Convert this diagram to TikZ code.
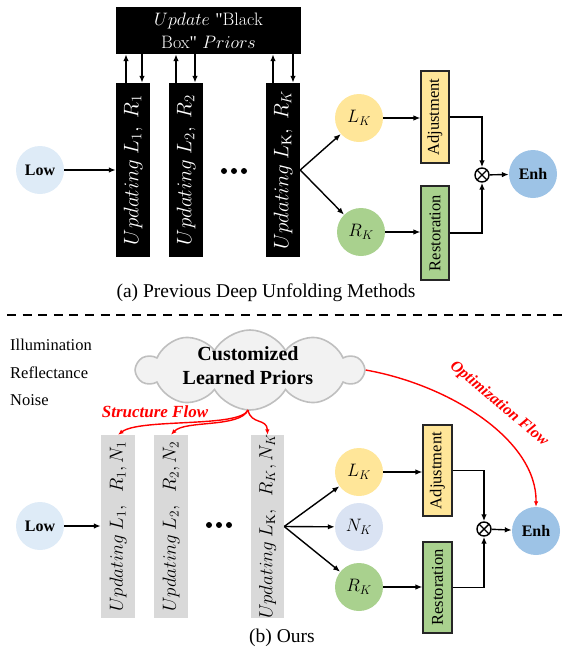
\RequirePackage{fix-cm}
\documentclass[tikz,border=0pt]{standalone}
\usepackage{fontspec}
\setmainfont{Liberation Serif}
\newcommand\lmrfont{\fontfamily{lmr}\selectfont}
\newcommand\sq{{\fontspec{Liberation Serif}[Ligatures=TeXOff]\char"22}}
\usetikzlibrary{shapes.symbols,arrows.meta,calc}
\definecolor{lowblue}{HTML}{DEEBF7}
\definecolor{enhblue}{HTML}{9DC3E6}
\definecolor{lyellow}{HTML}{FFE699}
\definecolor{rgreen}{HTML}{A9D18E}
\definecolor{nblue}{HTML}{DAE3F3}
\definecolor{colgray}{HTML}{D9D9D9}
\definecolor{cloudfill}{HTML}{F2F2F2}
\definecolor{cloudline}{HTML}{BFBFBF}
\definecolor{flowred}{HTML}{FF0000}
\begin{document}
\begin{tikzpicture}[x=1pt,y=-1pt,
  arr/.style={-{Latex[length=7pt,width=5.5pt]}, line width=1.4pt},
  redarr/.style={-{Latex[length=5.5pt,width=4.5pt]}, line width=1.4pt, draw=flowred},
  bcol/.style={fill=black, minimum width=34pt, minimum height=174pt, inner sep=0pt},
  gcol/.style={fill=colgray, minimum width=34pt, minimum height=183pt, inner sep=0pt},
  tcoltext/.style={rotate=90, text=white, inner sep=0pt, font=\fontsize{21}{21}\selectfont},
  gcoltext/.style={rotate=90, inner sep=0pt, font=\fontsize{19}{19}\selectfont},
  circ/.style={circle, minimum size=48pt, inner sep=0pt},
  boldlbl/.style={font=\bfseries\fontsize{16}{16}\selectfont},
  mathlbl/.style={font=\fontsize{18}{18}\selectfont},
  vbox/.style={draw=black!85, line width=1.1pt, minimum width=29pt, minimum height=92pt, inner sep=0pt},
  vtext/.style={rotate=90, inner sep=0pt, font=\fontsize{16.5}{16.5}\selectfont},
  otimesnode/.style={circle, draw, line width=1.4pt, minimum size=14pt, inner sep=0pt,
    path picture={\draw[line width=1.4pt] (path picture bounding box.north west) -- (path picture bounding box.south east)
      (path picture bounding box.north east) -- (path picture bounding box.south west);}},
  capfont/.style={font=\fontsize{19.5}{19.5}\selectfont},
  sidelbl/.style={anchor=west, inner sep=0pt, font=\fontsize{16.5}{16.5}\selectfont},
  flowlbl/.style={text=flowred, font=\bfseries\itshape\fontsize{17}{17}\selectfont}
]
\useasboundingbox (0,0) rectangle (563,648);

% ---------------- (a) top part ----------------
\node[fill=black, text=white, minimum width=185pt, minimum height=47pt, inner sep=0pt,
      align=center, font={\lmrfont\fontsize{18}{23}\selectfont}] (bb) at (208.5,30.5)
      {$Update$ \sq Black\\Box\sq{} $Priors$};

\node[bcol] (t1) at (133,170) {};
\node[tcoltext] (t1txt) at (t1) {$Updating\ L_1,\ R_1$};
\node[bcol] (t2) at (186,170) {};
\node[tcoltext] (t2txt) at (t2) {$Updating\ L_2,\ R_2$};
\node[bcol] (tk) at (283,170) {};
\node[tcoltext] (tktxt) at (tk) {$Updating\ L_{\mathrm{K}},\ R_K$};

\foreach \dx in {-10,0,10} \fill (234+\dx,171) circle (3pt);

\draw[arr] ([xshift=-7pt]t1.north) -- ([xshift=-7pt]t1.north |- bb.south);
\draw[arr] ([xshift=9pt]t1.north |- bb.south) -- ([xshift=9pt]t1.north);
\draw[arr] ([xshift=-10pt]t2.north) -- ([xshift=-10pt]t2.north |- bb.south);
\draw[arr] ([xshift=9pt]t2.north |- bb.south) -- ([xshift=9pt]t2.north);
\draw[arr] ([xshift=-10pt]tk.north) -- ([xshift=-10pt]tk.north |- bb.south);
\draw[arr] ([xshift=10pt]tk.north |- bb.south) -- ([xshift=10pt]tk.north);

\node[circ, fill=lowblue, boldlbl] (tlow) at (40,170) {Low};
\draw[arr] (tlow) -- (tlow -| t1.west);

\node[circ, fill=lyellow, mathlbl] (tlk) at (359,118) {$L_K$};
\node[circ, fill=rgreen, mathlbl] (trk) at (361,232) {$R_K$};
\draw[arr] (tk.east) -- (tlk);
\draw[arr] (tk.east) -- (trk);

\node[vbox, fill=lyellow, minimum width=28pt] (tadj) at (435,117) {};
\node[vtext] (tadjtxt) at (tadj) {Adjustment};
\node[vbox, fill=rgreen, minimum width=28pt, minimum height=94pt] (trest) at (435,233) {};
\node[vtext] (tresttxt) at (trest) {Restoration};

\node[otimesnode] (tot) at (482,175) {};
\node[circ, fill=enhblue, boldlbl] (tenh) at (533,174) {Enh};

\draw[arr] (tlk) -- (tlk -| tadj.west);
\draw[arr] (trk) -- (trk -| trest.west);
\draw[arr] (tadj.east) -| (tot.north);
\draw[arr] (trest.east) -| (tot.south);
\draw[arr] (tot) -- (tenh);

\node[capfont] (capa) at (266,293) {(a) Previous Deep Unfolding Methods};

% dashed separator
\draw[line width=2.3pt, dash pattern=on 9pt off 6.6pt] (7,315) -- (563,315);

% ---------------- (b) bottom part ----------------
\node[sidelbl] (illum) at (10,345) {Illumination};
\node[sidelbl] (refl) at (10,373) {Reflectance};
\node[sidelbl] (noise) at (10,400) {Noise};

\node[cloud, cloud puffs=10, cloud puff arc=120, aspect=2.8, minimum width=226pt, minimum height=80pt,
      draw=cloudline, fill=cloudfill, line width=1.6pt, inner sep=0pt] (cloud) at (250,370) {};
\node[align=center, inner sep=0pt, font=\bfseries\fontsize{20}{24}\selectfont] (cloudtxt) at (248,366)
      {Customized\\Learned Priors};

\node[flowlbl] (sflow) at (155,412) {Structure Flow};

\node[gcol] (b1) at (118,526.5) {};
\node[gcoltext] (b1txt) at (b1) {$Updating\ L_1,\ \ R_1,N_1$};
\node[gcol] (b2) at (171,526.5) {};
\node[gcoltext] (b2txt) at (b2) {$Updating\ L_2,\ \ R_2,N_2$};
\node[gcol, minimum width=33pt] (bk) at (267.5,526.5) {};
\node[gcoltext] (bktxt) at (bk) {$Updating\ L_{\mathrm{K}},\ \ R_K,N_K$};

\foreach \dx in {-10,0,10} \fill (219+\dx,525) circle (3pt);

\coordinate (cs) at (248,410);
\draw[redarr] (cs) .. controls (240,428) and (140,418) .. (b1.north);
\draw[redarr] (cs) .. controls (240,428) and (185,420) .. (b2.north);
\draw[redarr] (cs) .. controls (251,425) and (267,418) .. (bk.north);

\node[circ, fill=lowblue, boldlbl] (blow) at (40,526) {Low};
\draw[arr] (blow) -- (blow -| b1.west);

\node[circ, fill=lyellow, mathlbl] (blk) at (359,472) {$L_K$};
\node[circ, fill=nblue, mathlbl] (bnk) at (359,527) {$N_K$};
\node[circ, fill=rgreen, mathlbl] (brk) at (359,587) {$R_K$};
\draw[arr] (bk.east) -- (blk);
\draw[arr] (bk.east) -- (bnk);
\draw[arr] (bk.east) -- (brk);

\node[vbox, fill=lyellow, minimum height=91pt] (badj) at (437.5,470.5) {};
\node[vtext] (badjtxt) at (badj) {Adjustment};
\node[vbox, fill=rgreen, minimum height=91pt] (brest) at (437.5,587.5) {};
\node[vtext] (bresttxt) at (brest) {Restoration};

\node[otimesnode] (bot) at (484,529) {};
\node[circ, fill=enhblue, boldlbl] (benh) at (536,531) {Enh};

\draw[arr] (blk) -- (blk -| badj.west);
\draw[arr] (brk) -- (brk -| brest.west);
\draw[arr] (badj.east) -| (bot.north);
\draw[arr] (brest.east) -| (bot.south);
\draw[arr] (bot) -- (benh);

\draw[redarr] (cloud.east) .. controls (450,385) and (537,440) .. (benh.north);
\node[flowlbl, font=\bfseries\itshape\fontsize{16}{16}\selectfont, rotate=-40] (oflow) at (499,404) {Optimization Flow};

\node[capfont] (capb) at (282,638) {(b) Ours};
\end{tikzpicture}
\end{document}
